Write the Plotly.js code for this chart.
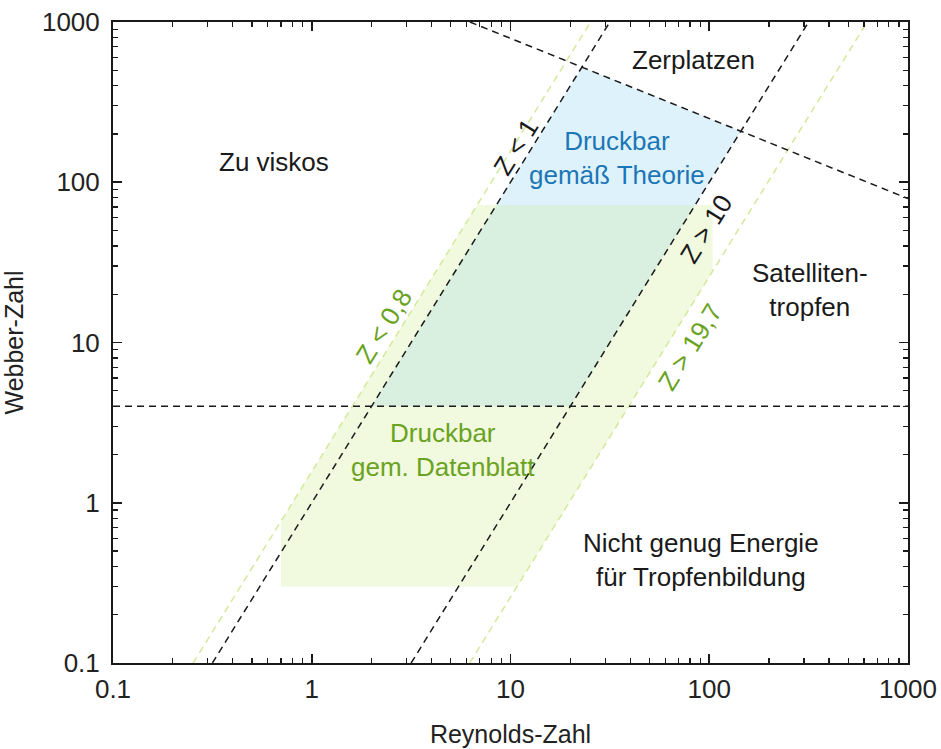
<!DOCTYPE html>
<html>
<head>
<meta charset="utf-8">
<script src="https://cdn.plot.ly/plotly-3.0.1.min.js"></script>
<style>
  html, body { margin: 0; padding: 0; background: #fff; }
  #chart { width: 941px; height: 749px; }
</style>
</head>
<body>
<div id="chart"></div>
<script>
// Axis extents (Reynolds number on x, Weber number on y)
const reRange = [0.1, 1000];
const weRange = [0.1, 1000];
const tickVals = [0.1, 1, 10, 100, 1000];
const tickText = ['0.1', '1', '10', '100', '1000'];

// Printability limits: Z = Re / sqrt(We)
const zTheory = [1, 10];        // theoretical window
const zSheet = [0.8, 19.7];     // data-sheet window
const weMinEnergy = 4;          // minimum Weber number for drop formation
const splashK = 50;             // splashing onset: Oh * Re^1.25 = K

// Data-sheet operating box
const sheetRe = [0.7, 104];
const sheetWe = [0.3, 72];

// Helpers for the boundary curves
const reOnZ = (z, we) => z * Math.sqrt(we);        // Re on a constant-Z line
const weOnZ = (z, re) => Math.pow(re / z, 2);       // We on a constant-Z line
const weSplash = re => Math.pow(splashK, 2) / Math.sqrt(re);
const reSplash = we => Math.pow(Math.pow(splashK, 2) / we, 2);
// Intersection of a constant-Z line with the splashing line
const reZSplash = z => Math.pow(Math.pow(splashK * z, 2), 1 / 2.5);

const black = '#1a1a1a';
const paleGreenLine = '#d3e99c';

const traces = [];

// Theoretical printable region (Z between 1 and 10, above We=4, below splashing)
{
  const r1 = reZSplash(zTheory[0]), r2 = reZSplash(zTheory[1]);
  traces.push({
    x: [reOnZ(zTheory[0], weMinEnergy), reOnZ(zTheory[1], weMinEnergy), r2, r1, reOnZ(zTheory[0], weMinEnergy)],
    y: [weMinEnergy, weMinEnergy, weOnZ(zTheory[1], r2), weOnZ(zTheory[0], r1), weMinEnergy],
    mode: 'lines', fill: 'toself', fillcolor: '#ddf2fb', line: {width: 0}, hoverinfo: 'skip'
  });
}

// Data-sheet printable region
{
  const brRe = reOnZ(zSheet[1], sheetWe[0]);
  const rightWe = weOnZ(zSheet[1], sheetRe[1]);
  const tlRe = reOnZ(zSheet[0], sheetWe[1]);
  const leftWe = weOnZ(zSheet[0], sheetRe[0]);
  traces.push({
    x: [sheetRe[0], brRe, sheetRe[1], sheetRe[1], tlRe, sheetRe[0], sheetRe[0]],
    y: [sheetWe[0], sheetWe[0], rightWe, sheetWe[1], sheetWe[1], leftWe, sheetWe[0]],
    mode: 'lines', fill: 'toself', fillcolor: '#f1f9df', line: {width: 0}, hoverinfo: 'skip'
  });
}

// Overlap of both windows
traces.push({
  x: [reOnZ(zTheory[0], weMinEnergy), reOnZ(zTheory[1], weMinEnergy), reOnZ(zTheory[1], sheetWe[1]), reOnZ(zTheory[0], sheetWe[1]), reOnZ(zTheory[0], weMinEnergy)],
  y: [weMinEnergy, weMinEnergy, sheetWe[1], sheetWe[1], weMinEnergy],
  mode: 'lines', fill: 'toself', fillcolor: '#d9efdf', line: {width: 0}, hoverinfo: 'skip'
});

// Constant-Z boundary lines
function zLine(z, color) {
  traces.push({
    x: [reOnZ(z, weRange[0]), reOnZ(z, weRange[1])],
    y: [weRange[0], weRange[1]],
    mode: 'lines', line: {color: color, width: 1.5, dash: '7px,5px'}, hoverinfo: 'skip'
  });
}
zSheet.forEach(z => zLine(z, paleGreenLine));
zTheory.forEach(z => zLine(z, black));

// Minimum-energy line
traces.push({
  x: reRange, y: [weMinEnergy, weMinEnergy],
  mode: 'lines', line: {color: black, width: 1.5, dash: '7px,5px'}, hoverinfo: 'skip'
});

// Splashing line
traces.push({
  x: [reSplash(weRange[1]), reRange[1]],
  y: [weRange[1], weSplash(reRange[1])],
  mode: 'lines', line: {color: black, width: 1.5, dash: '7px,5px'}, hoverinfo: 'skip'
});

// Plot-area geometry used to place the region labels
const W = 941, H = 749;
const margin = {l: 113, r: 33, t: 22, b: 86};
const pw = W - margin.l - margin.r, ph = H - margin.t - margin.b;
const px = v => (v - margin.l) / pw;
const py = v => (H - margin.b - v) / ph;

const font = 'Liberation Sans, Arial, sans-serif';
function label(x, y, text, color, angle) {
  return {
    xref: 'paper', yref: 'paper', x: px(x), y: py(y), text: text, showarrow: false,
    xanchor: 'center', yanchor: 'middle', textangle: angle || 0,
    font: {family: font, size: 26, color: color || black}
  };
}
const slopeAngle = -Math.atan(2 * (ph / 4) / (pw / 4)) * 180 / Math.PI;

const annotations = [
  label(274, 162, 'Zu viskos'),
  label(693, 60, 'Zerplatzen'),
  label(617, 158, 'Druckbar<br>gemäß Theorie', '#1c76b6'),
  label(810, 290, 'Satelliten-<br>tropfen'),
  label(443, 450, 'Druckbar<br>gem. Datenblatt', '#6aa321'),
  label(701, 560, 'Nicht genug Energie<br>für Tropfenbildung'),
  label(516, 147, 'Z &lt; 1', black, slopeAngle),
  label(706, 229, 'Z &gt; 10', black, slopeAngle),
  label(384, 326, 'Z &lt; 0,8', '#6aa321', slopeAngle),
  label(690, 347, 'Z &gt; 19,7', '#6aa321', slopeAngle)
];

function axis(titleText, standoff) {
  return {
    type: 'log',
    range: [Math.log10(reRange[0]), Math.log10(reRange[1])],
    tickvals: tickVals, ticktext: tickText,
    ticks: 'inside', ticklen: 9, tickwidth: 1.6, tickcolor: black,
    showline: true, linewidth: 2, linecolor: black, mirror: 'allticks',
    showgrid: false, zeroline: false,
    minor: {ticks: 'inside', ticklen: 5, tickwidth: 1.3, tickcolor: black, dtick: 'D1', showgrid: false},
    tickfont: {family: font, size: 26, color: '#222'},
    title: {text: titleText, font: {family: font, size: 25, color: '#222'}, standoff: standoff}
  };
}

const xaxis = axis('Reynolds-Zahl', 22);
xaxis.ticklabelstandoff = 2;
const yaxis = axis('Webber-Zahl', 11);
yaxis.range = [Math.log10(weRange[0]), Math.log10(weRange[1])];
yaxis.ticklabelstandoff = 6;

const layout = {
  width: W, height: H,
  margin: margin,
  paper_bgcolor: '#fff', plot_bgcolor: '#fff',
  showlegend: false,
  xaxis: xaxis, yaxis: yaxis,
  annotations: annotations
};

Plotly.newPlot('chart', traces, layout, {displayModeBar: false, staticPlot: true});
</script>
</body>
</html>
